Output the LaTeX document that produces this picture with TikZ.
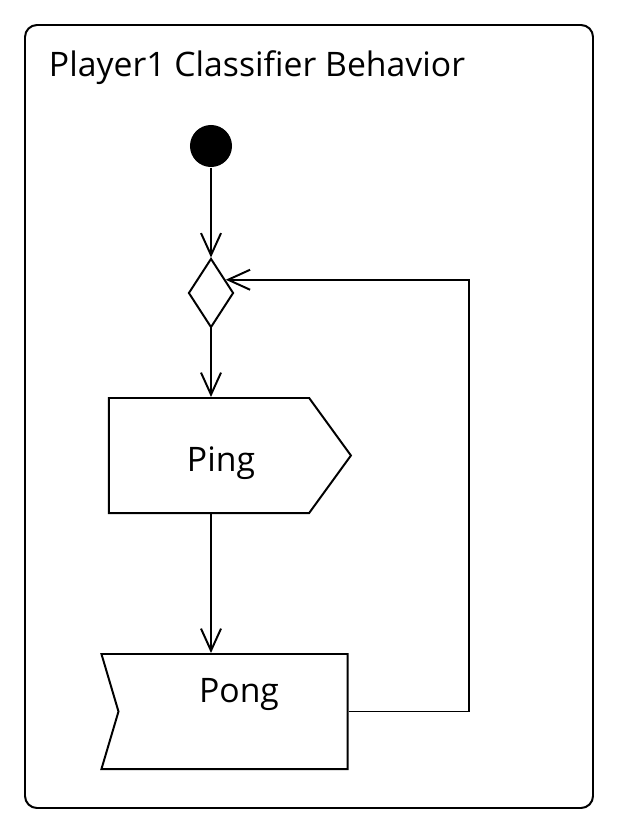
\documentclass[tikz,border=0pt]{standalone}
\usepackage{fontspec}
\setmainfont{Open Sans}
\usetikzlibrary{shapes.geometric}
\usetikzlibrary{shapes.symbols}
\usetikzlibrary{arrows.meta}

\tikzset{
  flow/.style={-{Straight Barb[length=0.55cm,width=0.5cm]}},
  act/.style={draw, signal, minimum height=2.875cm, inner sep=0pt},
}

\begin{document}
\begin{tikzpicture}[x=0.025cm,y=-0.025cm,line width=1.4pt,font=\fontsize{24}{28}\selectfont]
\useasboundingbox (0,0) rectangle (620,834);
\draw[rounded corners=0.3cm] (25,25) rectangle (593,808);
\node[anchor=base west,inner sep=0] (title) at (48,77) {Player1 Classifier Behavior};

\node[circle,fill,minimum size=1.05cm,inner sep=0] (init) at (211,146) {};
\node[diamond,draw,minimum width=1.125cm,minimum height=1.725cm,inner sep=0] (dec) at (211,293) {};
\node[act,minimum width=6.05cm,signal to=east,signal pointer angle=108] (ping) at (209,455.5) {};
\node[act,minimum width=6.15cm,signal to=nowhere,signal from=west,signal pointer angle=147] (pong) at (233,711.5) {};
\node[anchor=base,inner sep=0] (pingtext) at (221,471) {Ping};
\node[anchor=base,inner sep=0] (pongtext) at (239,702) {Pong};
\coordinate (back) at (469,500);

\draw[flow] (init) -- (dec);
\draw[flow] (dec) -- (dec |- ping.north);
\draw[flow] (dec |- ping.south) -- (dec |- pong.north);
\draw[flow] (pong.east) -| (back) |- (dec.42);
\end{tikzpicture}
\end{document}
